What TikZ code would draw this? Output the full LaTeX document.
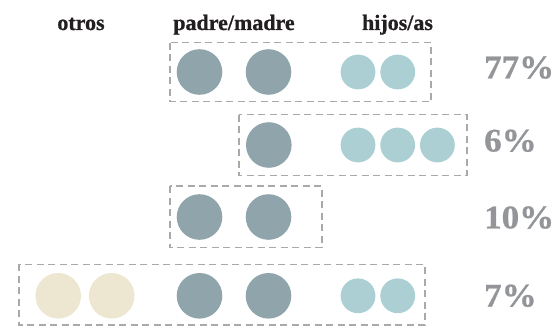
\documentclass[tikz,border=0pt]{standalone}
\usepackage{fontspec}
\setmainfont{Liberation Serif}
\newfontfamily\headfont{Liberation Serif}[UprightFont=*,BoldFont=* Bold,BoldFeatures={FakeBold=0.8}]
\newfontfamily\pctfont{Liberation Serif}[UprightFont=*,BoldFont=* Bold,BoldFeatures={FakeBold=0.8,FakeStretch=1.06}]
\definecolor{darkc}{HTML}{8FA5AB}
\definecolor{lightc}{HTML}{ABCFD3}
\definecolor{beigec}{HTML}{EDE6D0}
\definecolor{pctc}{HTML}{939598}
\definecolor{boxc}{HTML}{A7A9AC}
\definecolor{headc}{HTML}{231F20}
\tikzset{
  dk/.style={circle,fill=darkc,minimum size=45.6pt,inner sep=0pt},
  lt/.style={circle,fill=lightc,minimum size=34.8pt,inner sep=0pt},
  bg/.style={circle,fill=beigec,minimum size=45.6pt,inner sep=0pt},
  dashbox/.style={draw=boxc,line width=1.3pt,dash pattern=on 7pt off 4.5pt},
  head/.style={font=\headfont\fontsize{22}{25}\selectfont\bfseries,text=headc,anchor=base,inner sep=0pt},
  pct/.style={font=\pctfont\fontsize{33}{36}\selectfont\bfseries,text=pctc,anchor=base west,inner sep=0pt},
}
\begin{document}
\begin{tikzpicture}[x=1pt,y=-1pt]
\useasboundingbox (0,0) rectangle (556,326);
% headers
\node[head] (hotros) at (81,30) {otros};
\node[head] (hpadre) at (234,30) {padre/madre};
\node[head] (hhijos) at (397.5,30) {hijos/as};
% row 1
\draw[dashbox] (170,42.7) rectangle (431,101.7);
\node[dk] (r1a) at (199.5,72) {};
\node[dk] (r1b) at (268.5,72) {};
\node[lt] (r1c) at (358,72) {};
\node[lt] (r1d) at (397.7,72) {};
\node[pct] (p1) at (484,78.3) {77\%};
% row 2
\draw[dashbox] (239,114.5) rectangle (467,175.7);
\node[dk] (r2a) at (268.8,145) {};
\node[lt] (r2b) at (358,145) {};
\node[lt] (r2c) at (397.7,145) {};
\node[lt] (r2d) at (437.4,145) {};
\node[pct] (p2) at (484,151.5) {6\%};
% row 3
\draw[dashbox] (170,186) rectangle (322,247.7);
\node[dk] (r3a) at (199.5,217) {};
\node[dk] (r3b) at (268.5,217) {};
\node[pct] (p3) at (484,228.3) {10\%};
% row 4
\draw[dashbox] (19,264.3) rectangle (425,325);
\node[bg] (r4a) at (58.2,295.8) {};
\node[bg] (r4b) at (111.7,295.8) {};
\node[dk] (r4c) at (199.5,295.8) {};
\node[dk] (r4d) at (268.5,295.8) {};
\node[lt] (r4e) at (358,295.8) {};
\node[lt] (r4f) at (397.7,295.8) {};
\node[pct] (p4) at (484,306.5) {7\%};
\end{tikzpicture}
\end{document}
